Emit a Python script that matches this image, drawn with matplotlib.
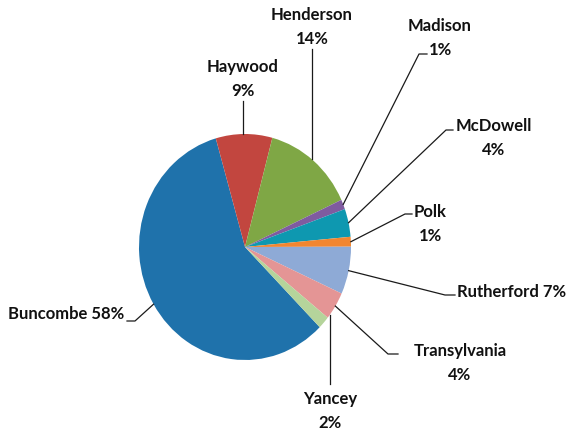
#!/usr/bin/env python3

import numpy as np
import matplotlib
matplotlib.use("Agg")
import matplotlib.pyplot as plt


counties = ["Buncombe", "Haywood", "Henderson", "Madison", "McDowell",
            "Polk", "Rutherford", "Transylvania", "Yancey"]
shares = [58.0, 8.6, 14.0, 1.4, 4.0, 1.4, 6.8, 4.0, 1.8]
colors = ["#1F72AB", "#C2463F", "#7FA745", "#7F5BA0", "#0E98B0",
          "#F28630", "#8EAAD6", "#E49595", "#B5D49B"]

W, H = 569, 431
CX, CY, RX, RY = 245, 248, 106, 113


def px(x, y):
	# pixel position in the picture -> data coords of the pie axes
	return (x - CX) / RX, (CY - y) / RY


# label layout, in picture pixels: text centre, line end at text, elbow (or None)
layout = {
	"Buncombe":     dict(text=(66, 314), sep=" ", end=(127, 322), elbow=(135, 322)),
	"Haywood":      dict(text=(243, 79), sep="\n", end=(243, 102), elbow=None),
	"Henderson":    dict(text=(312, 27), sep="\n", end=(312, 50), elbow=None),
	"Madison":      dict(text=(440, 38), sep="\n", end=(427, 55), elbow=(419, 55)),
	"McDowell":     dict(text=(494, 138), sep="\n", end=(453, 131), elbow=(446, 131)),
	"Polk":         dict(text=(430, 224), sep="\n", end=(412, 215), elbow=(405, 215)),
	"Rutherford":   dict(text=(512, 292), sep=" ", end=(455, 296), elbow=(445, 296)),
	"Transylvania": dict(text=(460, 363), sep="\n", end=(398, 355), elbow=(388, 355)),
	"Yancey":       dict(text=(330, 411), sep="\n", end=(330, 385), elbow=None),
}


def main():
	plt.rcParams['font.family'] = ['Lato', 'DejaVu Sans']
	fig = plt.figure(figsize=(W / 100, H / 100), dpi=100)
	ax = fig.add_axes([(CX - RX) / W, (H - CY - RY) / H, 2 * RX / W, 2 * RY / H])

	start = 90 + 16 + shares[0] * 3.6
	wedges, _ = ax.pie(shares, colors=colors, startangle=start, counterclock=False,
					   radius=1.0, wedgeprops=dict(linewidth=0))
	ax.set_aspect("auto")
	ax.set_xlim(-1, 1)
	ax.set_ylim(-1, 1)
	ax.axis("off")

	for name, val, w in zip(counties, shares, wedges):
		lay = layout[name]
		mid = np.deg2rad((w.theta1 + w.theta2) / 2)
		ax0, ay0 = np.cos(mid), np.sin(mid)
		ex, ey = px(*lay["end"])
		if lay["elbow"] is None:
			ax0 = ex
			ay0 = np.sign(ay0) * np.sqrt(max(0.0, 1 - ex ** 2))
			xs, ys = [ax0, ax0], [ay0, ey]
		else:
			bx, by = px(*lay["elbow"])
			xs, ys = [ax0, bx, ex], [ay0, by, ey]
		ax.plot(xs, ys, color="#1a1a1a", lw=0.9, clip_on=False)

		tx, ty = px(*lay["text"])
		ax.text(tx, ty, f"{name}{lay['sep']}{round(val)}%", ha="center", va="center",
				fontsize=12, fontweight="bold", linespacing=1.55, color="#111111",
				multialignment="center", clip_on=False)

	fig.savefig("out.png", dpi=100, facecolor="white")


if __name__ == '__main__':
	main()
